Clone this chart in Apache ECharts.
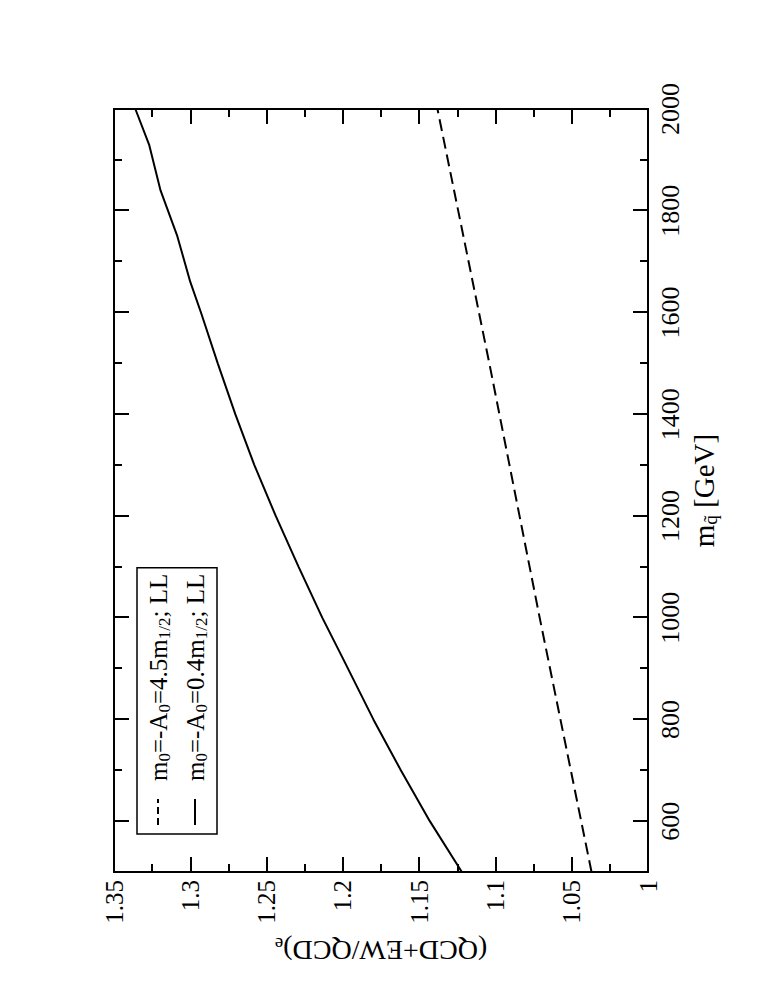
<!DOCTYPE html>
<html>
<head>
<meta charset="utf-8">
<title>QCD+EW / QCD ratio</title>
<script src="https://cdn.jsdelivr.net/npm/echarts@6/dist/echarts.min.js"></script>
<style>
  html, body { margin: 0; padding: 0; background: #fff; overflow: hidden; }
  body { width: 763px; height: 987px; position: relative; }
  /* the plot is drawn landscape, then turned a quarter turn like the original figure */
  #main {
    position: absolute;
    left: 0;
    top: 987px;
    width: 987px;
    height: 763px;
    transform-origin: 0 0;
    transform: rotate(-90deg);
  }
</style>
</head>
<body>
<div id="main"></div>
<script>
// squark mass [GeV]
var massSolid = [500, 600, 700, 800, 920, 1000, 1100, 1200, 1300, 1400, 1500, 1600, 1660, 1750, 1840, 1930, 2000];
var ratioSolid = [1.122, 1.143, 1.162, 1.180, 1.200, 1.2135, 1.229, 1.244, 1.258, 1.2705, 1.282, 1.293, 1.300, 1.3085, 1.3195, 1.327, 1.336];

var massDashed = [500, 1000, 1500, 2000];
var ratioDashed = [1.037, 1.071, 1.104, 1.138];

var seriesNames = ["m0=-A0=4.5m1/2; LL", "m0=-A0=0.4m1/2; LL"];
var legendLabels = ["m{s|0}=-A{s|0}=4.5m{s|1/2}; LL", "m{s|0}=-A{s|0}=0.4m{s|1/2}; LL"];

var massMajorTicks = [600, 800, 1000, 1200, 1400, 1600, 1800, 2000];
var massMinorTicks = [700, 900, 1100, 1300, 1500, 1700, 1900];

var FONT = "Liberation Serif";

function pairs(xs, ys) {
  return xs.map(function (x, i) { return [x, ys[i]]; });
}

var chart = echarts.init(document.getElementById("main"), null, { renderer: "svg" });

var line = { color: "#000", width: 2 };
var sub = { fontFamily: FONT, fontSize: 17, color: "#000", lineHeight: 14, verticalAlign: "bottom" };

function massAxis(pos, ticks, len, withLabels) {
  return {
    type: "value",
    position: pos,
    min: 500,
    max: 2000,
    axisLine: { show: true, onZero: false, lineStyle: line },
    axisTick: { show: true, inside: true, length: len, customValues: ticks, lineStyle: line },
    axisLabel: withLabels
      ? {
          show: true, customValues: massMajorTicks, margin: 9,
          fontFamily: FONT, fontSize: 26, color: "#000",
          formatter: function (v) { return String(v); }
        }
      : { show: false },
    splitLine: { show: false }
  };
}

function ratioAxis(pos, withLabels) {
  return {
    type: "value",
    position: pos,
    min: 1,
    max: 1.35,
    interval: 0.05,
    axisLine: { show: true, onZero: false, lineStyle: line },
    axisTick: { show: true, inside: true, length: 15, lineStyle: line },
    minorTick: { show: true, splitNumber: 2, length: 8, lineStyle: line },
    axisLabel: withLabels
      ? {
          show: true, margin: 8, fontFamily: FONT, fontSize: 25, color: "#000",
          formatter: function (v) { return String(Math.round(v * 100) / 100); }
        }
      : { show: false },
    splitLine: { show: false },
    minorSplitLine: { show: false }
  };
}

var xMain = massAxis("bottom", massMajorTicks, 15, true);
xMain.name = "m{s|q\u0303} [GeV]";
xMain.nameLocation = "middle";
xMain.nameGap = 35;
xMain.nameTextStyle = {
  fontFamily: FONT, fontSize: 29, color: "#000", lineHeight: 32,
  rich: { s: Object.assign({}, sub, { fontSize: 19, lineHeight: 16 }) }
};

var yMain = ratioAxis("left", true);
yMain.name = "(QCD+EW/QCD){s|e}";
yMain.nameLocation = "middle";
yMain.nameGap = 61;
yMain.nameTextStyle = {
  fontFamily: FONT, fontSize: 28, color: "#000", lineHeight: 32,
  rich: { s: Object.assign({}, sub, { fontSize: 19, lineHeight: 16 }) }
};

// legend keys: a short dashed stroke and a short solid stroke
var dashIcon = "path://M0,0H7V2H0Z M11,0H18V2H11Z M22,0H26V2H22Z";
var solidIcon = "path://M0,0H26V2H0Z";

var option = {
  backgroundColor: "#fff",
  animation: false,
  grid: { left: 115, right: 109, top: 114, bottom: 115, containLabel: false },
  xAxis: [
    xMain,
    massAxis("bottom", massMinorTicks, 8, false),
    massAxis("top", massMajorTicks, 15, false),
    massAxis("top", massMinorTicks, 8, false)
  ],
  yAxis: [yMain, ratioAxis("right", false)],
  legend: {
    orient: "vertical",
    left: 153,
    top: 137,
    padding: [6, 6, 7, 9],
    itemGap: 7,
    itemWidth: 28,
    itemHeight: 2,
    borderColor: "#000",
    borderWidth: 1.5,
    backgroundColor: "#fff",
    itemStyle: { color: "#000", borderWidth: 0 },
    lineStyle: { width: 0 },
    data: [
      { name: seriesNames[0], icon: dashIcon },
      { name: seriesNames[1], icon: solidIcon }
    ],
    formatter: function (name) {
      return legendLabels[seriesNames.indexOf(name)];
    },
    textStyle: {
      fontFamily: FONT,
      fontSize: 25,
      color: "#000",
      lineHeight: 30,
      padding: [0, 0, 0, 12],
      rich: { s: sub }
    }
  },
  series: [
    {
      name: seriesNames[0],
      type: "line",
      xAxisIndex: 0,
      yAxisIndex: 0,
      showSymbol: false,
      symbol: "none",
      lineStyle: { color: "#000", width: 2, type: [12, 6] },
      itemStyle: { color: "#000" },
      data: pairs(massDashed, ratioDashed)
    },
    {
      name: seriesNames[1],
      type: "line",
      xAxisIndex: 0,
      yAxisIndex: 0,
      showSymbol: false,
      symbol: "none",
      lineStyle: { color: "#000", width: 2 },
      itemStyle: { color: "#000" },
      data: pairs(massSolid, ratioSolid)
    }
  ]
};

chart.setOption(option);
</script>
</body>
</html>
